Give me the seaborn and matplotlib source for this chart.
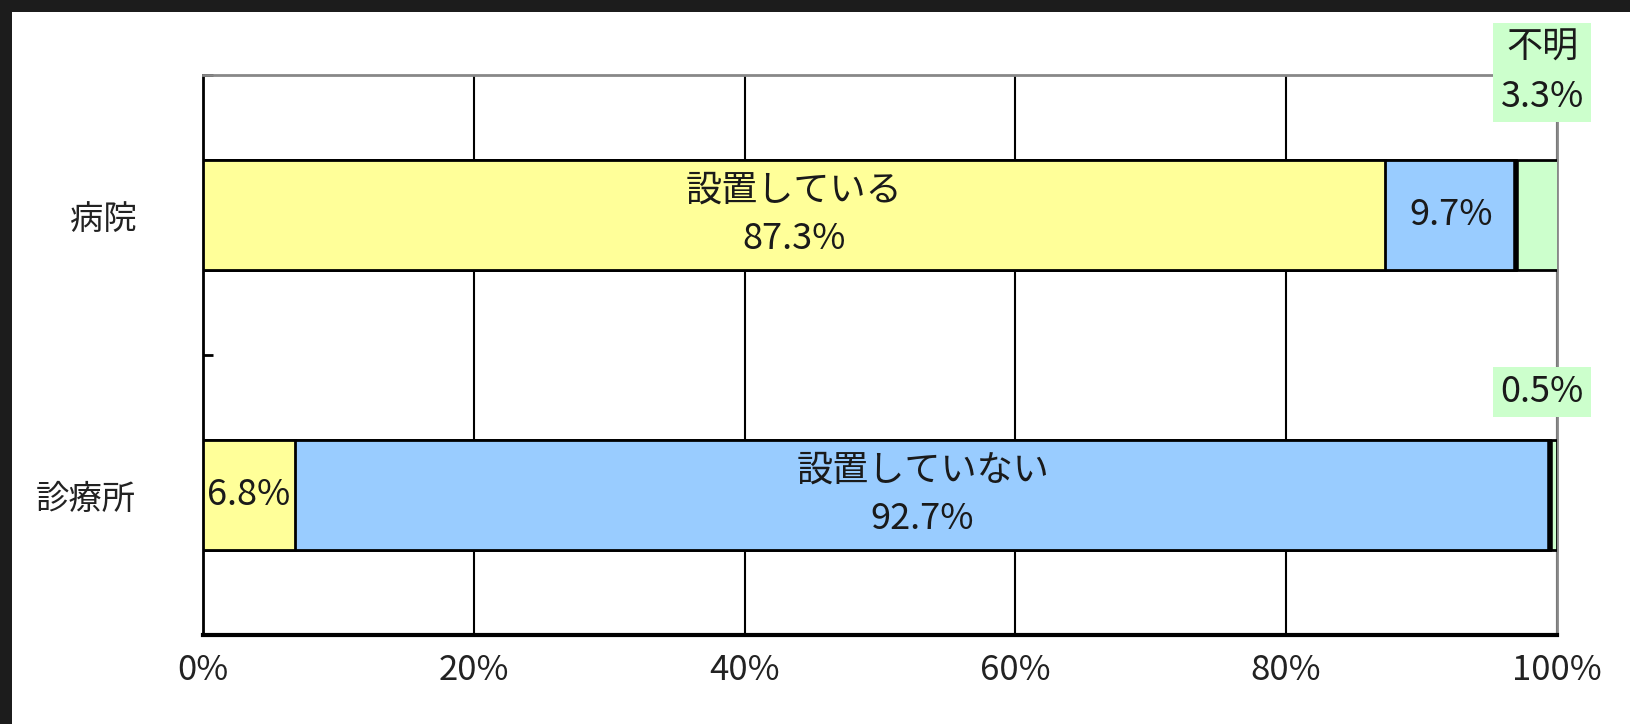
import matplotlib
matplotlib.use("Agg")
import matplotlib.pyplot as plt
from matplotlib.patches import Rectangle
import seaborn as sns
import pandas as pd

# Data
categories = ["病院", "診療所"]
installed = [87.3, 6.8]        # 設置している
not_installed = [9.7, 92.7]    # 設置していない
unknown = [3.3, 0.5]           # 不明
x_ticks = [0, 20, 40, 60, 80, 100]
x_tick_labels = ["0%", "20%", "40%", "60%", "80%", "100%"]

sns.set_theme(style="white")
plt.rcParams['font.family'] = ['Noto Sans CJK JP', 'DejaVu Sans']

df = pd.DataFrame({
    "category": categories,
    "installed": installed,
    "not_installed": not_installed,
    "unknown": unknown,
})
df["cum2"] = df["installed"] + df["not_installed"]
df["cum3"] = df["cum2"] + df["unknown"]

fig = plt.figure(figsize=(16.3, 7.24), dpi=100)
fig.patch.set_facecolor("white")
ax = fig.add_axes([0.1245, 0.1229, 0.8307, 0.7735])

# dark frame around the screenshot
fig.patches.append(Rectangle((0, 1 - 12 / 724), 1, 12 / 724, transform=fig.transFigure,
                             facecolor="#1c1c1c", edgecolor="none", zorder=0))
fig.patches.append(Rectangle((0, 0), 12 / 1630, 1, transform=fig.transFigure,
                             facecolor="#1c1c1c", edgecolor="none", zorder=0))

# stacked bars: draw cumulative totals from the back
bar_w = 0.39
bar_kw = dict(orient="h", width=bar_w, edgecolor="black", linewidth=2, ax=ax, zorder=3)
sns.barplot(data=df, x="cum3", y="category", color="#CCFFCC", saturation=1, **bar_kw)
sns.barplot(data=df, x="cum2", y="category", color="#99CCFF", saturation=1, **bar_kw)
sns.barplot(data=df, x="installed", y="category", color="#FFFF99", saturation=1, **bar_kw)

# heavy separator before the 不明 segment
for i, c2 in enumerate(df["cum2"]):
    ax.vlines(c2, i - bar_w / 2, i + bar_w / 2, color="black", linewidth=4, zorder=4)

ax.set_xlim(0, 100)
ax.set_ylim(1.5, -0.5)
ax.set_xlabel("")
ax.set_ylabel("")

ax.set_xticks(x_ticks)
ax.set_xticklabels(x_tick_labels)
ax.tick_params(axis="x", length=0, pad=13, labelsize=25, labelcolor="#222222")
ax.tick_params(axis="y", which="major", length=0, pad=48, labelsize=24, labelcolor="#222222")
ax.set_yticks([-0.5, 0.5, 1.5], minor=True)
ax.tick_params(axis="y", which="minor", direction="in", length=7, width=2, color="black", left=True)

ax.xaxis.grid(True, color="black", linewidth=1.5)
ax.set_axisbelow(True)
for side in ["top", "right"]:
    ax.spines[side].set_color("#888888")
    ax.spines[side].set_linewidth(2)
ax.spines["left"].set_color("black")
ax.spines["left"].set_linewidth(2)
ax.spines["bottom"].set_color("black")
ax.spines["bottom"].set_linewidth(3)

txt = dict(fontsize=26, color="#1a1a1a", ha="center", va="center", zorder=5, linespacing=1.45)

# labels inside bars
ax.text(installed[0] / 2, 0, f"設置している\n{installed[0]}%", **txt)
ax.text(installed[0] + not_installed[0] / 2, 0, f"{not_installed[0]}%", **txt)
ax.text(installed[1] / 2, 1, f"{installed[1]}%", **txt)
ax.text(installed[1] + not_installed[1] / 2, 1, f"設置していない\n{not_installed[1]}%", **txt)

# boxed labels for 不明
box = dict(boxstyle="square,pad=0.2", facecolor="#CCFFCC", edgecolor="none")
ax.text(98.9, -0.51, f"不明\n{unknown[0]}%", bbox=box, clip_on=False, **txt)
ax.text(98.9, 0.632, f"{unknown[1]}%", bbox=box, clip_on=False, **txt)

fig.savefig("out.png", dpi=100, facecolor="white")
